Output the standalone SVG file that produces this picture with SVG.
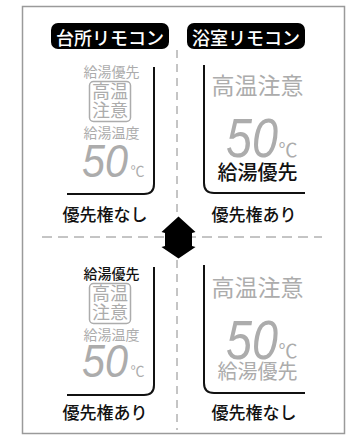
<svg xmlns="http://www.w3.org/2000/svg" width="351" height="440" viewBox="0 0 351 440">
<style>
.jp{font-family:"Noto Sans CJK JP","Noto Sans",sans-serif;text-anchor:middle}
.g{fill:#acacac}
.k{fill:#111}
.w{fill:#fff}
.seg{font-family:"Liberation Sans",Arial,sans-serif;font-style:italic;fill:#acacac}
.lcd{fill:none;stroke:#111;stroke-width:2}
.dash{stroke:#8a8a8a;stroke-width:1;fill:none}
</style>
<rect x="22.5" y="6.5" width="322" height="427" fill="#fff" stroke="#9a9a9a" stroke-width="1.5"/>
<g id="connectors">
  <line class="dash" x1="177" y1="50" x2="177" y2="215" stroke-dasharray="8,6"/>
  <line class="dash" x1="177" y1="260" x2="177" y2="430" stroke-dasharray="8,6"/>
  <line class="dash" x1="42" y1="237" x2="322" y2="237" stroke-dasharray="10,6"/>
  <polygon points="178.5,216.5 195.5,232 192,233 192,246 195.5,247 178.5,258.5 161.5,247 165,246 165,233 161.5,232" fill="#000"/>
</g>
<g id="label-kitchen">
  <rect x="51" y="23" width="118" height="26" rx="7" fill="#000"/>
  <text class="jp w" x="110" y="44.5" font-size="18" font-weight="500">台所リモコン</text>
</g>
<g id="label-bath">
  <rect x="187" y="23" width="118" height="26" rx="7" fill="#000"/>
  <text class="jp w" x="246" y="44.5" font-size="18" font-weight="500">浴室リモコン</text>
</g>
<g id="kitchen-top">
  <path class="lcd" d="M154,67 V184 Q154,194 144,194 H67"/>
  <text class="jp g" x="111.5" y="76.5" font-size="14">給湯優先</text>
  <rect x="89.5" y="81.5" width="41" height="40" rx="4" fill="none" stroke="#acacac" stroke-width="1.5"/>
  <text class="jp g" x="110" y="98" font-size="18">高温</text>
  <text class="jp g" x="110" y="117" font-size="18">注意</text>
  <text class="jp g" x="111.5" y="137.5" font-size="14">給湯温度</text>
  <text class="seg" x="82" y="177" font-size="47" textLength="46" lengthAdjust="spacingAndGlyphs">50</text>
  <text class="jp g" x="137.5" y="176" font-size="14">℃</text>
  <text class="jp k" x="105" y="220.5" font-size="17" font-weight="500">優先権なし</text>
</g>
<g id="bath-top">
  <path class="lcd" d="M204,65 V183 Q204,193 214,193 H305"/>
  <text class="jp g" x="257.5" y="94" font-size="23">高温注意</text>
  <text class="seg" x="226" y="157" font-size="55" textLength="52" lengthAdjust="spacingAndGlyphs">50</text>
  <text class="jp g" x="288" y="157" font-size="19">℃</text>
  <text class="jp k" x="257.5" y="179.5" font-size="20" font-weight="500">給湯優先</text>
  <text class="jp k" x="254" y="220.5" font-size="17" font-weight="500">優先権あり</text>
</g>
<g id="kitchen-bottom">
  <path class="lcd" d="M154,267 V385 Q154,395 144,395 H67"/>
  <text class="jp k" x="111.5" y="278.5" font-size="14" font-weight="500">給湯優先</text>
  <rect x="89.5" y="283.5" width="41" height="40" rx="4" fill="none" stroke="#acacac" stroke-width="1.5"/>
  <text class="jp g" x="110" y="300" font-size="18">高温</text>
  <text class="jp g" x="110" y="319" font-size="18">注意</text>
  <text class="jp g" x="111.5" y="339.5" font-size="14">給湯温度</text>
  <text class="seg" x="82" y="377" font-size="47" textLength="46" lengthAdjust="spacingAndGlyphs">50</text>
  <text class="jp g" x="137.5" y="376" font-size="14">℃</text>
  <text class="jp k" x="105" y="418.5" font-size="17" font-weight="500">優先権あり</text>
</g>
<g id="bath-bottom">
  <path class="lcd" d="M204,265 V383 Q204,393 214,393 H305"/>
  <text class="jp g" x="257.5" y="295.5" font-size="23">高温注意</text>
  <text class="seg" x="226" y="359" font-size="55" textLength="52" lengthAdjust="spacingAndGlyphs">50</text>
  <text class="jp g" x="288" y="358" font-size="19">℃</text>
  <text class="jp g" x="257.5" y="379" font-size="20">給湯優先</text>
  <text class="jp k" x="254" y="418.5" font-size="17" font-weight="500">優先権なし</text>
</g>
</svg>
